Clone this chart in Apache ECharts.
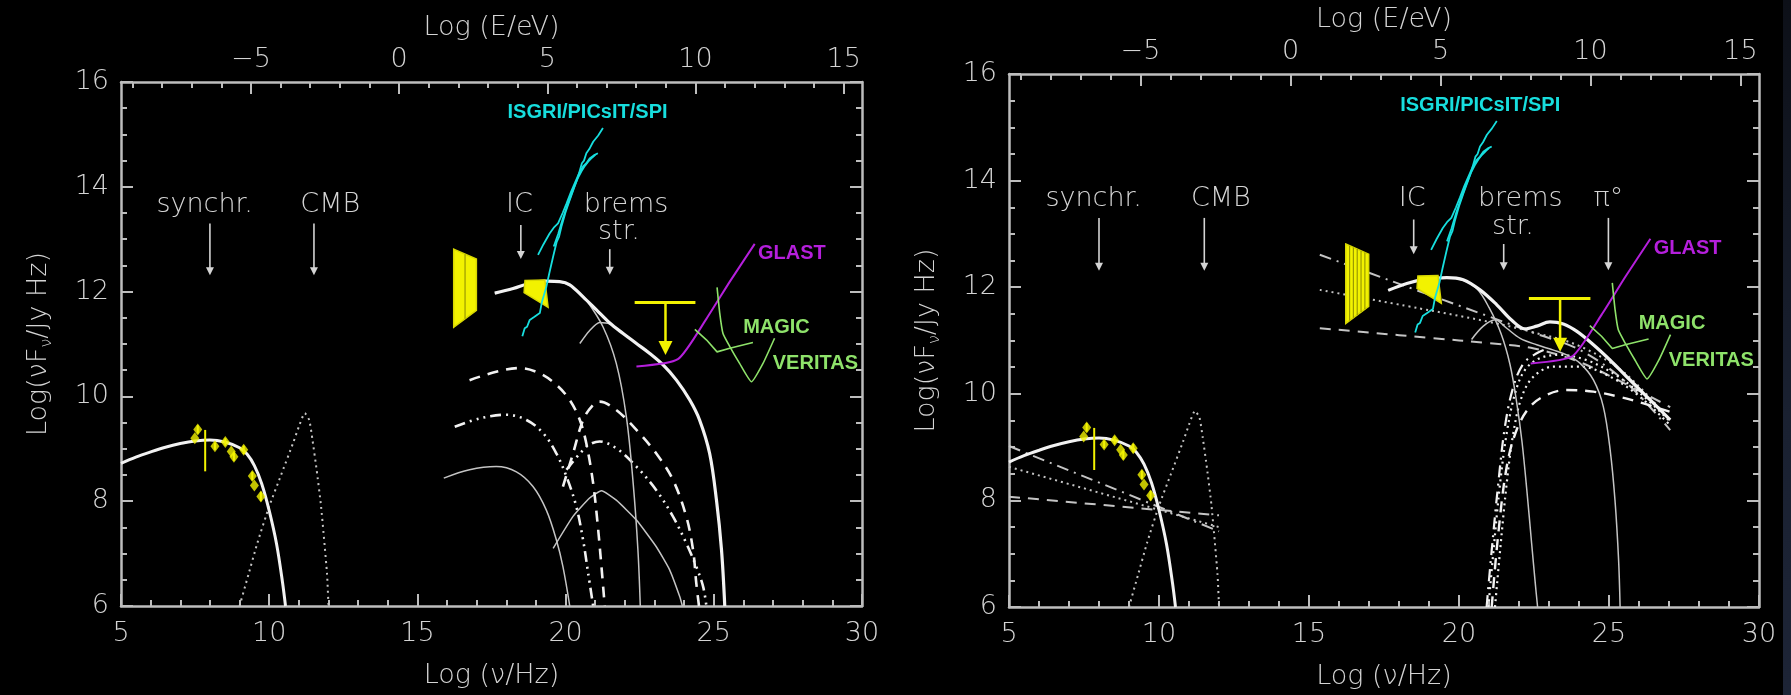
<!DOCTYPE html>
<html>
<head>
<meta charset="utf-8">
<script src="https://cdn.jsdelivr.net/npm/echarts@6/dist/echarts.min.js"></script>
<style>
  html, body { margin: 0; padding: 0; background: #000; }
  #chart { width: 1791px; height: 695px; }
  #edge { position: absolute; left: 1783px; top: 0; width: 8px; height: 695px;
          background: linear-gradient(to bottom, #0d1018, #1a2131 60%, #1d2436); }
</style>
</head>
<body>
<div id="chart"></div>
<div id="edge"></div>
<script>
// ---- axis scales ---------------------------------------------------------
const LOG_H = -14.383;                      // log10(h / eV s): log E = log nu + LOG_H
const nuTicks = [5, 10, 15, 20, 25, 30];
const eTicks = [-5, 0, 5, 10, 15];
const eMinorTicks = [-9, -8, -7, -6, -4, -3, -2, -1, 1, 2, 3, 4, 6, 7, 8, 9, 11, 12, 13, 14];
const fluxTicks = [6, 8, 10, 12, 14, 16];

// ---- shared model curves and measurements (log nu, log nuF_nu) -----------
const synchrotron = [[5,8.72],[5.5,8.84],[6,8.94],[6.5,9.03],[7,9.10],[7.5,9.15],[8,9.17],[8.5,9.13],[9,9.02],[9.25,8.90],[9.5,8.68],[9.75,8.33],[10,7.82],[10.25,7.18],[10.45,6.45],[10.55,6.0]];
const cmb = [[9.0,6.0],[9.3,6.6],[9.6,7.2],[10.0,7.9],[10.4,8.5],[10.8,9.1],[11.0,9.42],[11.2,9.68],[11.35,9.55],[11.46,9.17],[11.6,8.6],[11.75,7.9],[11.95,6.62],[12.0,6.0]];
const radioPoints = [[7.59,9.37],[7.49,9.20],[8.17,9.05],[8.52,9.13],[8.72,8.95],[8.81,8.85],[9.14,8.98],[9.43,8.48],[9.50,8.30],[9.72,8.09]];
const radioErrors = [[7.84,8.57,9.36],[7.59,9.29,9.45],[8.17,8.98,9.12],[8.52,9.06,9.20],[8.81,8.77,8.93],[9.14,8.90,9.06],[9.43,8.40,8.56],[9.72,8.00,8.18]];
const opticalBox = [[16.225,12.81],[16.99,12.62],[16.99,11.64],[16.225,11.32]];
const xrayBox = [[18.63,12.21],[19.30,12.22],[19.41,11.70],[18.60,11.98]];
const isgriA = [[18.54,11.15],[18.62,11.30],[18.70,11.33],[18.79,11.46],[18.95,11.52],[19.13,11.59],[19.20,11.80],[19.35,12.09],[19.45,12.35],[19.58,12.67],[19.70,12.95],[19.78,13.05],[19.86,13.24],[20.00,13.52],[20.14,13.75],[20.30,14.00],[20.42,14.19],[20.55,14.45],[20.62,14.50],[20.70,14.64],[20.80,14.72],[20.93,14.86],[21.10,14.98],[21.26,15.12]];
const isgriB = [[19.07,12.70],[19.25,12.90],[19.46,13.11],[19.60,13.22],[19.745,13.30],[19.90,13.50],[20.03,13.68],[20.18,13.90],[20.31,14.07],[20.45,14.25],[20.59,14.39],[20.70,14.45],[20.81,14.54],[20.95,14.60],[21.09,14.64]];
const isgriC = [[19.60,12.86],[19.75,13.10],[19.91,13.40],[20.08,13.68],[20.25,13.94],[20.40,14.15],[20.53,14.29],[20.65,14.40],[20.76,14.48],[20.90,14.56],[21.00,14.61]];
const glast = [[22.39,10.57],[23.79,10.71],[24.75,11.48],[25.54,12.19],[26.38,12.91]];
const magic = [[24.36,11.28],[24.75,11.08],[25.11,10.85],[25.54,10.92],[26.32,11.03]];
const veritas = [[25.11,12.08],[25.20,11.59],[25.31,11.20],[25.54,10.95],[25.87,10.63],[26.27,10.28],[26.66,10.63],[27.05,11.11]];
const upperLimitBar = [[22.33,11.79],[24.38,11.79]];
const upperLimitStem = [[23.37,11.79],[23.37,10.79]];

// ---- left panel: leptonic model ------------------------------------------
const totalLeft = [[17.61,11.97],[18.23,12.06],[18.79,12.16],[19.35,12.20],[19.80,12.19],[20.14,12.13],[20.59,11.90],[21.04,11.65],[21.49,11.40],[21.94,11.20],[22.39,11.01],[22.84,10.82],[23.29,10.60],[23.74,10.31],[24.19,9.93],[24.52,9.55],[24.86,8.91],[25.09,8.02],[25.26,7.07],[25.37,6.0]];
const icLeft = [[17.61,11.97],[18.23,12.06],[18.79,12.16],[19.35,12.20],[19.80,12.19],[20.14,12.12],[20.45,11.98],[20.70,11.84],[21.26,11.33],[21.71,10.63],[22.05,9.61],[22.28,8.34],[22.44,7.07],[22.52,6.0]];
const bremsLeft = [[20.48,11.01],[20.80,11.25],[21.15,11.41],[21.50,11.38],[21.94,11.20],[22.39,11.01],[22.84,10.82],[23.29,10.60],[23.74,10.31],[24.19,9.93],[24.52,9.55],[24.86,8.91],[25.09,8.02],[25.26,7.07],[25.37,6.0]];
const icLowLeft = [[15.89,8.44],[16.76,8.60],[17.66,8.66],[18.34,8.56],[18.90,8.28],[19.35,7.83],[19.69,7.26],[19.91,6.75],[20.14,6.0]];
const bremsLowLeft = [[19.58,7.10],[20.25,7.71],[20.81,8.06],[21.21,8.20],[21.71,8.02],[22.39,7.64],[23.06,7.13],[23.51,6.69],[23.85,6.18],[23.94,6.0]];
const icDashLeft = [[16.76,10.31],[17.66,10.47],[18.45,10.54],[19.13,10.44],[19.69,10.22],[20.14,9.93],[20.48,9.55],[20.70,9.10],[20.93,8.34],[21.09,7.51],[21.21,6.75],[21.32,6.0]];
const bremsDashLeft = [[19.91,8.28],[20.25,8.91],[20.59,9.55],[20.90,9.82],[21.15,9.90],[21.71,9.74],[22.39,9.36],[23.06,8.91],[23.62,8.41],[24.07,7.71],[24.30,7.07],[24.41,6.43],[24.50,6.0]];
const icDashDotLeft = [[16.26,9.42],[17.10,9.58],[18.00,9.65],[18.68,9.55],[19.24,9.30],[19.69,8.91],[20.03,8.47],[20.36,7.90],[20.59,7.26],[20.76,6.63],[20.93,6.0]];
const bremsDashDotLeft = [[20.03,8.60],[20.48,8.91],[20.80,9.08],[21.15,9.14],[21.71,9.01],[22.39,8.66],[23.06,8.21],[23.62,7.71],[24.07,7.20],[24.41,6.75],[24.64,6.37],[24.75,6.0]];

// ---- right panel: hadronic model -----------------------------------------
const totalRight = [[17.64,11.94],[18.26,12.07],[18.92,12.15],[19.59,12.18],[20.14,12.14],[20.70,11.95],[21.26,11.67],[21.76,11.38],[22.20,11.22],[22.59,11.27],[23.03,11.35],[23.48,11.31],[23.93,11.17],[24.48,10.92],[25.04,10.63],[25.59,10.32],[26.15,10.01],[27.04,9.51]];
const icRight = [[17.64,11.94],[18.26,12.07],[18.92,12.15],[19.59,12.18],[20.14,12.13],[20.60,11.97],[21.00,11.62],[21.40,11.13],[21.70,10.55],[21.92,9.85],[22.10,9.10],[22.26,8.20],[22.42,7.20],[22.55,6.40],[22.62,6.0]];
const bremsRight = [[20.42,11.02],[20.81,11.27],[21.20,11.39],[21.59,11.23],[22.04,11.04],[22.59,10.92],[23.15,10.82],[23.59,10.73],[24.04,10.57],[24.48,10.26],[24.81,9.76],[25.04,8.94],[25.20,8.0],[25.32,6.88],[25.37,6.0]];
const pionDotA = [[20.98,6.0],[21.15,7.06],[21.37,8.32],[21.59,9.26],[21.87,10.01],[22.20,10.45],[22.70,10.67],[23.37,10.73],[24.26,10.63],[25.15,10.38],[26.04,10.01],[27.04,9.48]];
const pionDotB = [[21.20,6.0],[21.37,7.06],[21.59,8.32],[21.81,9.26],[22.09,9.94],[22.48,10.32],[23.15,10.51],[24.04,10.51],[25.04,10.32],[26.04,9.94],[27.04,9.41]];
const pionDash = [[21.09,6.0],[21.31,7.38],[21.59,8.63],[21.92,9.32],[22.37,9.76],[22.92,9.98],[23.59,10.07],[24.48,10.04],[25.37,9.94],[26.15,9.82],[27.04,9.66]];
const pionDashDot = [[20.92,6.0],[21.09,7.06],[21.31,8.32],[21.53,9.38],[21.81,10.13],[22.15,10.57],[22.59,10.76],[23.00,10.86]];
const secDashDotHigh = [[15.36,12.61],[17.00,12.27],[18.70,11.92],[21.00,11.45],[22.50,11.14],[24.00,10.83],[25.50,10.25],[27.04,9.32]];
const secDottedHigh = [[15.36,11.95],[18.70,11.60],[21.00,11.35],[22.50,11.15],[24.00,10.90],[25.50,10.40],[27.04,9.50]];
const secDashedHigh = [[15.36,11.23],[17.00,11.15],[19.00,11.05],[21.00,10.95],[22.50,10.85],[24.00,10.60],[25.50,10.20],[27.04,9.75]];
const secDashDotLow = [[5.0,9.02],[12.0,7.42]];
const secDottedLow = [[5.0,8.63],[12.0,7.50]];
const secDashedLow = [[5.0,8.07],[12.0,7.72]];

// ---- annotations (log nu, log nuF_nu) -------------------------------------
const processLabels = [[7.82,13.66,'synchr.'],[12.06,13.66,'CMB'],[18.44,13.66,'IC'],[22.04,13.66,'brems'],[21.80,13.13,'str.']];
const pionLabel = [[24.98,13.66,'\u03c0\u00b0']];
const processArrows = [[8.00,13.30,12.31],[11.51,13.30,12.31],[18.49,13.27,12.62],[21.49,12.81,12.32]];
const pionArrow = [[24.98,13.30,12.32]];
const isgriLabel = [[18.04,15.41,'ISGRI/PICsIT/SPI']];
const glastLabel = [[26.49,12.72,'GLAST']];
const magicLabel = [[25.99,11.32,'MAGIC']];
const veritasLabel = [[26.99,10.62,'VERITAS']];

// ---- styling ---------------------------------------------------------------
const AX = '#bdbdbd';
const TXT = '#d4d4d4';
const FONT = '"DejaVu Sans", sans-serif';
const FW = 200;
const INSTR_FONT = 'bold 20px "Liberation Sans Narrow", "Liberation Sans", sans-serif';
const YELLOW = '#f2f200';
const CYAN = '#17dede';
const PURPLE = '#b51fdc';
const GREEN = '#8ee26a';
const WHITE = '#f2f2f2';
const THIN = '#c4c4c4';

const grids = [
  { left: 121, top: 82, width: 741, height: 524 },
  { left: 1009, top: 74, width: 750, height: 533 }
];

const tickLine = { color: AX, width: 2 };
const fmtSigned = v => (v < 0 ? '\u2212' + Math.abs(v) : String(v));
const axisText = { color: TXT, fontSize: 27, fontFamily: FONT, fontWeight: FW };

function xAxesFor(gi) {
  return [
    {
      gridIndex: gi, type: 'value', position: 'bottom', min: nuTicks[0], max: nuTicks[nuTicks.length - 1], interval: 5,
      axisLine: { show: true, onZero: false, lineStyle: { color: AX, width: 2.5 } },
      axisTick: { show: true, inside: true, length: 12, lineStyle: tickLine },
      minorTick: { show: true, splitNumber: 5, length: 6, lineStyle: tickLine },
      splitLine: { show: false },
      axisLabel: Object.assign({ margin: 14 }, axisText),
      name: 'Log (\u03bd/Hz)', nameLocation: 'middle', nameGap: 56,
      nameTextStyle: axisText
    },
    {
      gridIndex: gi, type: 'value', position: 'top', min: nuTicks[0] + LOG_H, max: nuTicks[nuTicks.length - 1] + LOG_H,
      axisLine: { show: true, onZero: false, lineStyle: { color: AX, width: 2.5 } },
      axisTick: { show: true, inside: true, length: 12, lineStyle: tickLine, customValues: eTicks },
      splitLine: { show: false },
      axisLabel: Object.assign({ margin: 9, customValues: eTicks, formatter: fmtSigned }, axisText),
      name: 'Log (E/eV)', nameLocation: 'middle', nameGap: 40,
      nameTextStyle: axisText
    },
    {
      gridIndex: gi, type: 'value', position: 'top', min: nuTicks[0] + LOG_H, max: nuTicks[nuTicks.length - 1] + LOG_H,
      axisLine: { show: false, onZero: false },
      axisTick: { show: true, inside: true, length: 6, lineStyle: tickLine, customValues: eMinorTicks },
      splitLine: { show: false },
      axisLabel: { show: false }
    }
  ];
}

function yAxesFor(gi) {
  const base = {
    gridIndex: gi, type: 'value', min: fluxTicks[0], max: fluxTicks[fluxTicks.length - 1], interval: 2,
    axisLine: { show: true, onZero: false, lineStyle: { color: AX, width: 2.5 } },
    axisTick: { show: true, inside: true, length: 12, lineStyle: tickLine },
    minorTick: { show: true, splitNumber: 4, length: 6, lineStyle: tickLine },
    splitLine: { show: false }
  };
  return [
    Object.assign({}, base, {
      position: 'left',
      axisLabel: Object.assign({ margin: 12 }, axisText),
      name: 'Log(\u03bdF{s|\u03bd}/Jy Hz)', nameLocation: 'middle', nameGap: 66, nameRotate: 90,
      nameTextStyle: Object.assign({ lineHeight: 32,
        rich: { s: { color: TXT, fontSize: 16, fontFamily: FONT, fontWeight: FW, verticalAlign: 'bottom', lineHeight: 18 } }
      }, axisText)
    }),
    Object.assign({}, base, { position: 'right', axisLabel: { show: false } })
  ];
}

function curve(gi, data, color, width, type, z, smooth) {
  return {
    type: 'line', xAxisIndex: 3 * gi, yAxisIndex: 2 * gi, data: data,
    showSymbol: false, symbol: 'none', silent: true, z: z || 3,
    smooth: smooth === undefined ? 0.35 : smooth,
    lineStyle: { color: color, width: width, type: type || 'solid' }
  };
}

function polygon(gi, pts, fill, stroke, hatch, z) {
  return {
    type: 'custom', xAxisIndex: 3 * gi, yAxisIndex: 2 * gi, silent: true, z: z || 5, clip: false,
    data: [pts[0]],
    renderItem: function (params, api) {
      const p = pts.map(q => api.coord(q));
      const children = [{ type: 'polygon', shape: { points: p }, style: { fill: fill, stroke: stroke, lineWidth: 1.5 } }];
      // vertical hatching between the left and right edges of a four-sided box
      for (let i = 1; i < hatch; i++) {
        const f = i / hatch;
        const xt = p[0][0] + (p[1][0] - p[0][0]) * f, yt = p[0][1] + (p[1][1] - p[0][1]) * f;
        const xb = p[3][0] + (p[2][0] - p[3][0]) * f, yb = p[3][1] + (p[2][1] - p[3][1]) * f;
        children.push({ type: 'line', shape: { x1: xt, y1: yt, x2: xb, y2: yb }, style: { stroke: '#9a9a00', lineWidth: 1.2 } });
      }
      return { type: 'group', children: children };
    }
  };
}

function texts(gi, items, style, z) {
  return {
    type: 'custom', xAxisIndex: 3 * gi, yAxisIndex: 2 * gi, silent: true, z: z || 8, clip: false,
    data: items.map(t => [t[0], t[1]]),
    renderItem: function (params, api) {
      const t = items[params.dataIndex];
      const p = api.coord([t[0], t[1]]);
      return { type: 'text', x: p[0], y: p[1], style: Object.assign({ text: t[2] }, style) };
    }
  };
}

function arrows(gi, items, color) {
  return {
    type: 'custom', xAxisIndex: 3 * gi, yAxisIndex: 2 * gi, silent: true, z: 8, clip: false,
    data: items.map(a => [a[0], a[1]]),
    renderItem: function (params, api) {
      const a = items[params.dataIndex];
      const p0 = api.coord([a[0], a[1]]), p1 = api.coord([a[0], a[2]]);
      return {
        type: 'group', children: [
          { type: 'line', shape: { x1: p0[0], y1: p0[1], x2: p1[0], y2: p1[1] - 3 }, style: { stroke: color, lineWidth: 1.6 } },
          { type: 'polygon', shape: { points: [[p1[0] - 4, p1[1] - 8], [p1[0] + 4, p1[1] - 8], [p1[0], p1[1]]] }, style: { fill: color } }
        ]
      };
    }
  };
}

function errorBars(gi, items, color) {
  return {
    type: 'custom', xAxisIndex: 3 * gi, yAxisIndex: 2 * gi, silent: true, z: 6, clip: false,
    data: items.map(e => [e[0], e[1]]),
    renderItem: function (params, api) {
      const e = items[params.dataIndex];
      const lo = api.coord([e[0], e[1]]), hi = api.coord([e[0], e[2]]);
      return { type: 'line', shape: { x1: lo[0], y1: lo[1], x2: hi[0], y2: hi[1] }, style: { stroke: color, lineWidth: 2 } };
    }
  };
}

function upperLimit(gi) {
  return {
    type: 'custom', xAxisIndex: 3 * gi, yAxisIndex: 2 * gi, silent: true, z: 7, clip: false,
    data: [upperLimitStem[0]],
    renderItem: function (params, api) {
      const b0 = api.coord(upperLimitBar[0]), b1 = api.coord(upperLimitBar[1]);
      const s0 = api.coord(upperLimitStem[0]), s1 = api.coord(upperLimitStem[1]);
      return {
        type: 'group', children: [
          { type: 'line', shape: { x1: b0[0], y1: b0[1], x2: b1[0], y2: b1[1] }, style: { stroke: YELLOW, lineWidth: 3 } },
          { type: 'line', shape: { x1: s0[0], y1: s0[1], x2: s1[0], y2: s1[1] - 10 }, style: { stroke: YELLOW, lineWidth: 2.5 } },
          { type: 'polygon', shape: { points: [[s1[0] - 7, s1[1] - 14], [s1[0] + 7, s1[1] - 14], [s1[0], s1[1]]] }, style: { fill: YELLOW } }
        ]
      };
    }
  };
}

const labelStyle = { fill: TXT, font: FW + ' 27px ' + FONT, align: 'center', verticalAlign: 'middle', textAlign: 'center', textVerticalAlign: 'middle' };
const instr = c => ({ fill: c, font: INSTR_FONT, align: 'left', verticalAlign: 'middle', textAlign: 'left', textVerticalAlign: 'middle' });

function shared(gi) {
  return [
    curve(gi, cmb, THIN, 2, [2, 4], 3, 0.2),
    curve(gi, synchrotron, WHITE, 3, 'solid', 4, 0.35),
    {
      type: 'scatter', xAxisIndex: 3 * gi, yAxisIndex: 2 * gi, data: radioPoints, silent: true, z: 7,
      symbol: 'diamond', symbolSize: [9, 12], itemStyle: { color: YELLOW }
    },
    errorBars(gi, radioErrors, YELLOW),
    polygon(gi, opticalBox, YELLOW, '#d8d800', gi === 1 ? 6 : 2, 5),
    polygon(gi, xrayBox, YELLOW, '#d8d800', 0, 5),
    curve(gi, isgriA, CYAN, 1.8, 'solid', 6, false),
    curve(gi, isgriB, CYAN, 1.8, 'solid', 6, false),
    curve(gi, isgriC, CYAN, 1.8, 'solid', 6, false),
    curve(gi, glast, PURPLE, 2, 'solid', 6, 0.2),
    curve(gi, magic, GREEN, 1.6, 'solid', 6, false),
    curve(gi, veritas, GREEN, 1.6, 'solid', 6, 0.15),
    upperLimit(gi),
    texts(gi, processLabels, labelStyle),
    arrows(gi, processArrows, TXT),
    texts(gi, isgriLabel, instr(CYAN)),
    texts(gi, glastLabel, instr(PURPLE)),
    texts(gi, magicLabel, instr(GREEN)),
    texts(gi, veritasLabel, instr(GREEN))
  ];
}

const DASH = [11, 8];
const DASHDOT3 = [11, 5, 2, 5, 2, 5, 2, 5];
const DASHDOT = [12, 6, 2, 6];
const DOT = [2, 4];

const leftSeries = [
  curve(0, icLowLeft, THIN, 1.5),
  curve(0, bremsLowLeft, THIN, 1.5, 'solid', 3, 0.15),
  curve(0, icDashLeft, WHITE, 2.6, DASH),
  curve(0, bremsDashLeft, WHITE, 2.6, DASH),
  curve(0, icDashDotLeft, WHITE, 2.6, DASHDOT3),
  curve(0, bremsDashDotLeft, WHITE, 2.6, DASHDOT3),
  curve(0, icLeft, THIN, 1.5),
  curve(0, bremsLeft, THIN, 1.5, 'solid', 3, 0.25),
  curve(0, totalLeft, WHITE, 3.2, 'solid', 4)
];

const rightSeries = [
  curve(1, secDashDotLow, THIN, 2, DASHDOT, 3, false),
  curve(1, secDottedLow, THIN, 2, DOT, 3, false),
  curve(1, secDashedLow, THIN, 2, DASH, 3, false),
  curve(1, secDashDotHigh, THIN, 2, DASHDOT),
  curve(1, secDottedHigh, THIN, 2, DOT),
  curve(1, secDashedHigh, THIN, 2, DASH),
  curve(1, pionDotA, WHITE, 2.2, DOT),
  curve(1, pionDotB, WHITE, 2.2, DOT),
  curve(1, pionDash, WHITE, 2.4, DASH),
  curve(1, pionDashDot, WHITE, 2.2, DASHDOT),
  curve(1, icRight, THIN, 1.5),
  curve(1, bremsRight, THIN, 1.5),
  curve(1, totalRight, WHITE, 3.2, 'solid', 4),
  texts(1, pionLabel, labelStyle),
  arrows(1, pionArrow, TXT)
];

const chart = echarts.init(document.getElementById('chart'), null, { renderer: 'canvas' });
chart.setOption({
  backgroundColor: '#000',
  animation: false,
  grid: grids.map(g => Object.assign({ containLabel: false, outerBoundsMode: 'none' }, g)),
  xAxis: xAxesFor(0).concat(xAxesFor(1)),
  yAxis: yAxesFor(0).concat(yAxesFor(1)),
  series: shared(0).concat(leftSeries, shared(1), rightSeries)
});
</script>
</body>
</html>
